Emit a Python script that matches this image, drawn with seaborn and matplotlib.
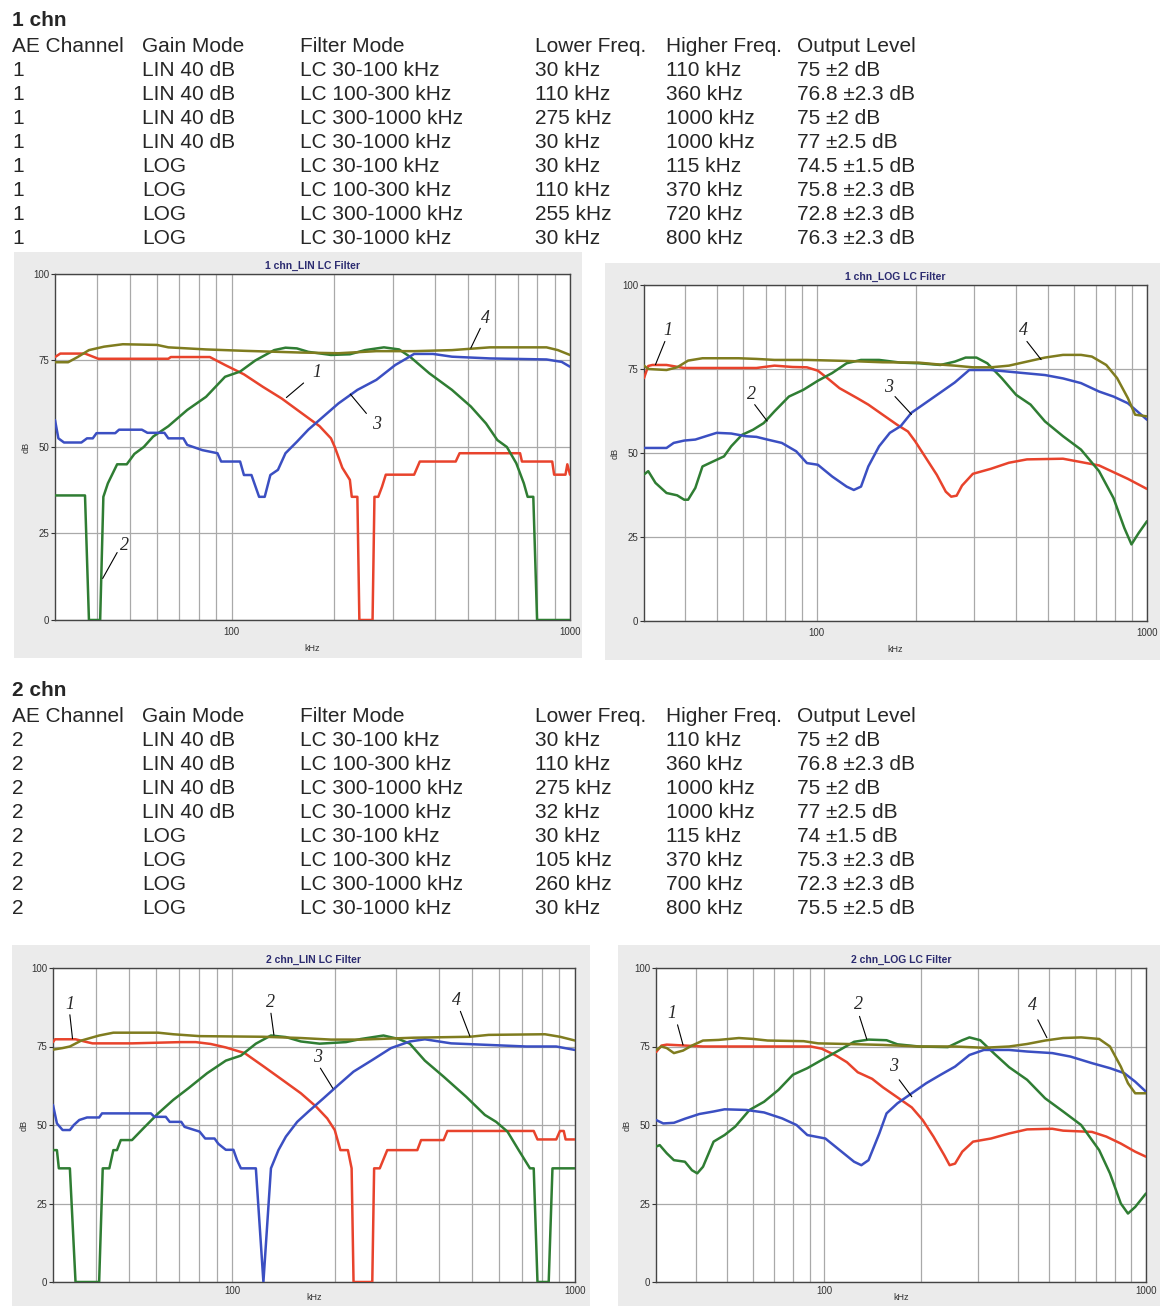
import matplotlib
matplotlib.use("Agg")
import matplotlib.pyplot as plt
from matplotlib.patches import Rectangle
from matplotlib.ticker import FixedLocator, NullFormatter
import seaborn as sns

# ---------------- table data ----------------
HEADERS = ["AE Channel", "Gain Mode", "Filter Mode", "Lower Freq.", "Higher Freq.", "Output Level"]
GAIN = ["LIN 40 dB", "LIN 40 dB", "LIN 40 dB", "LIN 40 dB", "LOG", "LOG", "LOG", "LOG"]
FILTER = ["LC 30-100 kHz", "LC 100-300 kHz", "LC 300-1000 kHz", "LC 30-1000 kHz",
          "LC 30-100 kHz", "LC 100-300 kHz", "LC 300-1000 kHz", "LC 30-1000 kHz"]
CH1 = ["1", "1", "1", "1", "1", "1", "1", "1"]
LOWER1 = ["30 kHz", "110 kHz", "275 kHz", "30 kHz", "30 kHz", "110 kHz", "255 kHz", "30 kHz"]
HIGHER1 = ["110 kHz", "360 kHz", "1000 kHz", "1000 kHz", "115 kHz", "370 kHz", "720 kHz", "800 kHz"]
OUTPUT1 = ["75 ±2 dB", "76.8 ±2.3 dB", "75 ±2 dB", "77 ±2.5 dB", "74.5 ±1.5 dB",
           "75.8 ±2.3 dB", "72.8 ±2.3 dB", "76.3 ±2.3 dB"]
CH2 = ["2", "2", "2", "2", "2", "2", "2", "2"]
LOWER2 = ["30 kHz", "110 kHz", "275 kHz", "32 kHz", "30 kHz", "105 kHz", "260 kHz", "30 kHz"]
HIGHER2 = ["110 kHz", "360 kHz", "1000 kHz", "1000 kHz", "115 kHz", "370 kHz", "700 kHz", "800 kHz"]
OUTPUT2 = ["75 ±2 dB", "76.8 ±2.3 dB", "75 ±2 dB", "77 ±2.5 dB", "74 ±1.5 dB",
           "75.3 ±2.3 dB", "72.3 ±2.3 dB", "75.5 ±2.5 dB"]

TITLES = ["1 chn_LIN LC Filter", "1 chn_LOG LC Filter", "2 chn_LIN LC Filter", "2 chn_LOG LC Filter"]
X_TICKS = [100, 1000]
X_TICK_LABELS = ["100", "1000"]
Y_TICKS = [0, 25, 50, 75, 100]

# ---------------- curve data: 1 chn LIN ----------------
L1_RED_F = [30, 31.1, 36.8, 40.3, 64.9, 66, 86.1, 95.5, 108.6, 123.5, 140.5, 159.8, 181.8, 196.4, 201.6,
            212.2, 223.4, 226.3, 235.1, 238.3, 260.7, 264.1, 271, 278, 285.3, 346, 359.6, 459.3, 471.5,
            711.8, 721, 886, 897.6, 969.6, 982, 1000]
L1_RED_DB = [76, 77, 77, 75.5, 75.5, 76, 76, 73.7, 71, 67.4, 64, 60, 56, 52.5, 50,
             44, 40.5, 35.6, 35.6, 0, 0, 35.6, 35.6, 38.5, 42, 42, 45.8, 45.8, 48.2,
             48.2, 45.8, 45.8, 42, 42, 45, 42]
L1_GRN_F = [30, 36.8, 37.8, 40.8, 41.7, 43.0, 45.8, 48.9, 51.5, 54.9, 58.5, 64.9, 73.8, 83.9, 95.5,
            105.8, 117.3, 133.4, 144.1, 155.7, 168.3, 196.4, 223.4, 247.6, 281.7, 312.2, 337.3, 383.7,
            447.7, 509.1, 564.5, 609.8, 650.6, 693.7, 730.3, 749.4, 778.9, 799.2, 1000]
L1_GRN_DB = [36, 36, 0, 0, 35.6, 39.5, 45, 45, 48, 50, 53, 56, 60.7, 64.5, 70.3,
             71.8, 75, 78, 78.7, 78.5, 77.5, 76.6, 76.8, 78, 78.8, 78.2, 76, 71.3,
             66.5, 61.7, 56.8, 52, 50, 45.3, 39.5, 35.6, 35.6, 0, 0]
L1_BLU_F = [30, 30.7, 31.9, 35.9, 37.3, 38.8, 39.8, 45.2, 46.4, 54.2, 56.3, 63.2, 64.9, 71.9, 73.8,
            81.8, 90.7, 93.0, 105.8, 108.6, 114.3, 120.4, 125.1, 130.0, 136.9, 144.1, 155.7, 168.3,
            186.5, 206.7, 235.1, 267.5, 304.3, 328.7, 346, 393.7, 447.7, 579.3, 852.3, 944.9, 1000]
L1_BLU_DB = [57.8, 52.5, 51.3, 51.3, 52.5, 52.5, 54, 54, 55, 55, 54.1, 54.1, 52.5, 52.5, 50.6,
             49.1, 48.2, 45.8, 45.8, 41.9, 41.9, 35.6, 35.6, 41.9, 43.4, 48.2, 51.5, 55,
             58.8, 62.6, 66.5, 69.4, 73.7, 75.6, 76.9, 76.9, 76.1, 75.6, 75.3, 74.6, 73.2]
L1_OLV_F = [30, 32.8, 35.0, 37.8, 41.9, 47.6, 60.1, 64.9, 83.9, 108.6, 159.8, 206.7, 267.5, 346,
            447.7, 579.3, 852.3, 920.9, 1000]
L1_OLV_DB = [74.5, 74.5, 76, 78, 79, 79.7, 79.5, 78.8, 78.2, 77.8, 77.3, 77.1, 77.7, 77.7,
             78, 78.8, 78.8, 78, 76.6]

# ---------------- curve data: 1 chn LOG ----------------
G1_RED_F = [30, 30.9, 31.8, 35.1, 39.7, 58.0, 65.7, 74.5, 84.5, 93.4, 100.8, 108.6, 117.2, 132.8, 143.3,
            158.4, 175.2, 188.9, 198.6, 214.2, 231.0, 245.9, 255.4, 265.2, 275.4, 297.0, 336.8, 381.9,
            433.0, 556.8, 631.3, 715.8, 791.6, 875.4, 1000]
G1_RED_DB = [72.3, 75.9, 76.2, 76.2, 75.3, 75.3, 75.3, 76, 75.6, 75.5, 74.5, 72, 69.3, 66.3, 64.4,
             61.4, 58.4, 56.4, 53.5, 48.5, 43.5, 38.5, 37, 37.3, 40.3, 43.8, 45.3, 47.1,
             48.1, 48.3, 47.3, 46.3, 44.3, 42.3, 39.3]
G1_GRN_F = [30, 30.9, 32.5, 35.1, 37.8, 39.7, 40.8, 42.9, 45.1, 48.6, 52.4, 55.1, 59.4, 64.1, 69.1,
            74.5, 82.4, 91.1, 100.8, 111.4, 123.2, 136.2, 154.5, 179.6, 203.7, 236.9, 261.9, 282.4,
            304.5, 328.5, 363.1, 401.6, 444.1, 491.0, 556.8, 631.3, 715.8, 791.6, 853.7, 897.4, 943.8, 1000]
G1_GRN_DB = [43.6, 44.6, 41.1, 38.1, 37.4, 36.1, 36.1, 39.6, 46, 47.5, 49, 52, 55.4, 56.9, 58.9,
             62.4, 66.8, 68.8, 71.5, 73.8, 76.7, 77.7, 77.7, 76.9, 76.7, 76.2, 77.2, 78.4,
             78.4, 76.7, 72.3, 67.3, 64.4, 59.4, 55, 51, 44.6, 36.6, 27.7, 22.8, 26.2, 29.7]
G1_BLU_F = [30, 35.1, 36.9, 39.7, 42.9, 46.2, 49.8, 55.1, 61.0, 65.7, 70.9, 78.4, 86.7, 93.4, 100.8,
            111.4, 123.2, 129.5, 136.2, 143.3, 154.5, 166.5, 179.6, 193.7, 214.2, 236.9, 261.9, 289.6,
            336.8, 381.9, 433.0, 491.0, 556.8, 631.3, 715.8, 791.6, 875.4, 1000]
G1_BLU_DB = [51.5, 51.5, 53, 53.7, 54, 55, 56, 55.8, 55, 54.8, 54, 53, 50.5, 47, 46.5,
             43, 40, 39, 40, 46, 52, 56, 58, 62, 65, 68, 71, 74.7,
             74.7, 74.2, 73.7, 73.2, 72.2, 70.8, 68.3, 66.8, 64.8, 59.9]
G1_OLV_F = [30, 30.9, 35.1, 37.8, 40.8, 45.1, 58.0, 65.7, 74.5, 93.4, 123.2, 158.4, 203.7, 231.0,
            261.9, 297.0, 336.8, 381.9, 433.0, 491.0, 556.8, 631.3, 680.8, 752.7, 811.7, 875.4, 920.4, 1000]
G1_OLV_DB = [76, 75, 74.7, 75.5, 77.5, 78.2, 78.2, 78, 77.7, 77.7, 77.4, 77, 76.9, 76.4,
             76, 75.5, 75.5, 76, 77.2, 78.4, 79.2, 79.2, 78.7, 76.2, 72.3, 66.3, 61.4, 60.9]

# ---------------- curve data: 2 chn LIN ----------------
L2_RED_F = [30, 30.4, 34.9, 37.7, 39.1, 51.0, 70.8, 78.3, 86.6, 95.8, 108.7, 123.3, 139.9, 158.6, 175.5,
            189.3, 199.1, 206.8, 217.5, 223.0, 225.9, 256.2, 259.4, 269.4, 283.3, 346.7, 355.6, 413.7,
            424.3, 757.8, 777.2, 881.6, 904.0, 927.1, 938.9, 1000]
L2_RED_DB = [76.4, 77.3, 77.3, 76.4, 76, 76, 76.4, 76.4, 75.8, 74.7, 72.9, 68.7, 64.4, 60.1, 55.9,
             52.1, 48.4, 42, 42, 36.2, 0, 0, 36.2, 36.2, 42, 42, 45.2, 45.2,
             48.1, 48.1, 45.4, 45.4, 48.1, 48.1, 45.4, 45.4]
L2_GRN_F = [30, 30.8, 31.2, 33.6, 34.9, 40.9, 41.9, 43.8, 45.0, 46.1, 47.3, 51.0, 55.0, 60.8, 67.3,
            74.5, 84.5, 95.8, 106.0, 117.2, 129.7, 143.4, 158.6, 179.9, 214.8, 237.5, 276.3, 305.6,
            329.7, 364.7, 413.7, 481.3, 545.9, 588.8, 635.3, 685.0, 738.9, 757.8, 777.2, 838.1, 859.5, 1000]
L2_GRN_DB = [42, 42, 36.2, 36.2, 0, 0, 36.2, 36.2, 42, 42, 45.2, 45.2, 48.9, 53.7, 58,
             61.7, 66.5, 70.5, 72.1, 75.9, 78.5, 78, 76.6, 75.9, 76.4, 77.4, 78.5, 77.4,
             75.9, 70.5, 65.4, 59, 53.2, 51, 47.9, 42, 36.2, 36.2, 0, 0, 36.2, 36.2]
L2_BLU_F = [30, 30.8, 32.0, 33.6, 34.5, 35.8, 37.7, 40.9, 41.7, 57.9, 59.3, 64.0, 65.7, 71.0, 72.6,
            80.3, 83.4, 88.8, 91.1, 95.8, 100.8, 103.3, 106.0, 117.2, 123.3, 129.7, 136.4, 143.4,
            154.7, 166.9, 184.6, 204.2, 225.9, 256.2, 290.6, 329.7, 364.7, 435.1, 559.9, 720.5, 881.6, 1000]
L2_BLU_DB = [56.4, 50.5, 48.4, 48.4, 50, 51.6, 52.4, 52.4, 53.7, 53.7, 52.6, 52.6, 51, 51, 49.4,
             47.9, 45.7, 45.7, 44, 42.1, 42.1, 38.8, 36.2, 36.2, 0, 36.2, 42, 46.3,
             51, 54.3, 58.5, 62.8, 67, 70.7, 74.5, 76.6, 77.3, 76, 75.5, 75, 75, 73.9]
L2_OLV_F = [30, 32.0, 33.6, 36.3, 40.9, 45.0, 60.8, 67.3, 80.3, 123.3, 158.6, 194.1, 237.5, 338.1,
            493.5, 559.9, 817.3, 904.0, 1000]
L2_OLV_DB = [74, 74.5, 75, 76.9, 78.5, 79.4, 79.4, 78.9, 78.3, 78.1, 77.7, 77.2, 77.2, 77.8,
             78.1, 78.7, 78.9, 78.1, 76.9]

# ---------------- curve data: 2 chn LOG ----------------
G2_RED_F = [30, 31.2, 32.4, 36.9, 42.0, 90.9, 98.2, 108.9, 117.6, 127.1, 140.9, 152.2, 168.8, 187.1,
            202.2, 218.5, 236.0, 245.3, 255.0, 268.5, 290.1, 330.0, 375.5, 427.0, 511.4, 552.6, 679.2,
            753.0, 835.0, 925.6, 1000]
G2_RED_DB = [73.2, 75.3, 75.6, 75.3, 75, 75, 74.3, 72.1, 70, 66.8, 64.7, 62, 58.8, 55.6,
             51.6, 46.3, 40.4, 37.2, 37.7, 41.5, 44.7, 45.7, 47.3, 48.6, 48.8, 48.2, 47.8,
             46.3, 44.1, 41.5, 39.9]
G2_GRN_F = [30, 30.8, 32.4, 34.1, 36.9, 38.8, 40.3, 42.0, 45.3, 49.0, 52.9, 58.6, 65.0, 72.1, 79.9,
            88.6, 98.2, 111.7, 123.8, 137.3, 156.2, 168.8, 197.0, 242.2, 268.5, 282.7, 305.4, 338.6,
            375.5, 427.0, 485.8, 552.6, 628.6, 715.2, 772.7, 835.0, 879.0, 925.6, 1000]
G2_GRN_DB = [43.1, 43.6, 41, 38.8, 38.3, 35.6, 34.6, 36.7, 44.7, 46.8, 49.5, 54.8, 57.4, 61.2, 66,
             68.1, 70.7, 73.9, 76.5, 77.2, 77, 75.7, 75, 74.8, 77, 77.9, 77, 72.6,
             68.4, 64.4, 58.5, 54.3, 50, 42, 34.6, 25, 21.8, 23.9, 28.2]
G2_BLU_F = [30, 31.6, 34.1, 36.9, 40.9, 45.3, 49.0, 57.1, 65.0, 74.0, 82.0, 88.6, 100.8, 111.7, 123.8,
            130.4, 137.3, 148.3, 156.2, 168.8, 187.1, 207.4, 230.0, 255.0, 282.7, 313.4, 375.5, 427.0,
            511.4, 582.1, 679.2, 772.7, 856.4, 925.6, 1000]
G2_BLU_DB = [51.6, 50.5, 50.7, 52, 53.5, 54.3, 55, 54.8, 54, 52.1, 50, 46.8, 45.7, 42, 38.3,
             37.2, 38.8, 47.3, 53.7, 56.9, 60.1, 63.3, 66, 68.6, 72.3, 73.9, 73.9, 73.4,
             72.9, 71.8, 69.7, 68.1, 66.5, 63.8, 60.6]
G2_OLV_F = [30, 31.2, 32.4, 34.1, 36.4, 38.8, 42.0, 47.0, 54.3, 60.2, 66.7, 86.3, 95.7, 117.6, 152.2,
            197.0, 255.0, 313.4, 375.5, 427.0, 485.8, 552.6, 628.6, 715.2, 772.7, 835.0, 879.0, 925.6, 1000]
G2_OLV_DB = [73.9, 75, 74.5, 72.9, 73.7, 75.3, 76.9, 77.1, 77.7, 77.4, 76.9, 76.7, 76, 75.8, 75.5,
             75, 75, 74.6, 75, 75.8, 76.9, 77.7, 77.9, 77.4, 75, 68.6, 63.3, 60.1, 60.1]

# curve number labels: (label, text pos, leader start, leader end) in data coords
NOTES = [
    [("1", (178, 71.5), (163, 68.5), (145, 64.3)), ("2", (48, 21.5), (45.8, 19.5), (41.5, 12)),
     ("3", (268, 56.5), (250, 59.7), (224, 65.3)), ("4", (562, 87), (543, 84.3), (509, 78.6))],
    [("1", (35.5, 86.5), (34.7, 83.2), (32.5, 76.3)), ("2", (63.3, 67.5), (64.9, 64.4), (70.8, 59.5)),
     ("3", (164.5, 69.5), (172.6, 66.8), (193.6, 61.5)), ("4", (422, 86.5), (433, 83.2), (478, 77.8))],
    [("1", (33.5, 88.5), (33.6, 85.1), (34.2, 77.5)), ("2", (129, 89), (129.7, 85.6), (132.3, 78.7)),
     ("3", (176.8, 71.5), (180.8, 68.1), (196.5, 61.7)), ("4", (452, 89.5), (463, 86.2), (493.5, 78.3))],
    [("1", (33.5, 85.5), (35.0, 81.9), (36.4, 75.5)), ("2", (128.1, 88.5), (128.7, 84.6), (135.6, 77.3)),
     ("3", (164.5, 68.5), (171, 64.4), (187.1, 59)), ("4", (444, 88), (461, 83.5), (492, 77.8))],
]

CURVES = [
    [(L1_RED_F, L1_RED_DB), (L1_GRN_F, L1_GRN_DB), (L1_BLU_F, L1_BLU_DB), (L1_OLV_F, L1_OLV_DB)],
    [(G1_RED_F, G1_RED_DB), (G1_GRN_F, G1_GRN_DB), (G1_BLU_F, G1_BLU_DB), (G1_OLV_F, G1_OLV_DB)],
    [(L2_RED_F, L2_RED_DB), (L2_GRN_F, L2_GRN_DB), (L2_BLU_F, L2_BLU_DB), (L2_OLV_F, L2_OLV_DB)],
    [(G2_RED_F, G2_RED_DB), (G2_GRN_F, G2_GRN_DB), (G2_BLU_F, G2_BLU_DB), (G2_OLV_F, G2_OLV_DB)],
]
COLORS = ["#e8432c", "#2f7d33", "#3b4fc2", "#7f7c1f"]

# ---------------- layout ----------------
W, H = 1160, 1306
sns.set_style("white")
plt.rcParams["font.family"] = ["Liberation Sans", "DejaVu Sans"]

fig = plt.figure(figsize=(W / 100, H / 100), dpi=100)
fig.patch.set_facecolor("white")


def fx(px):
    return px / W


def fy(py):
    return 1 - py / H


# panel (gray frame) and axes pixel boxes
PANELS = [(14, 252, 582, 658), (605, 263, 1160, 660), (12, 945, 590, 1306), (618, 945, 1160, 1306)]
AXES = [(55, 274, 570, 620), (644, 285, 1147, 621), (53, 968, 575, 1282), (656, 968, 1146, 1282)]
XTICK_PAD = [5, 5, 3, 3]
XLABEL_PAD = [5, 5, -2, -2]

for (l, t, r, b) in PANELS:
    fig.add_artist(Rectangle((fx(l), fy(b)), fx(r - l), (b - t) / H, transform=fig.transFigure,
                             facecolor="#ebebeb", edgecolor="none", zorder=-5))

# tables
COL_X = [12, 142, 300, 535, 666, 797]


def draw_table(title, title_y, header_y, cols):
    fig.text(fx(12), fy(title_y), title, fontsize=15, fontweight="bold", va="center", ha="left")
    for cx, h in zip(COL_X, HEADERS):
        fig.text(fx(cx), fy(header_y), h, fontsize=15, va="center", ha="left")
    for i in range(8):
        for cx, col in zip(COL_X, cols):
            fig.text(fx(cx), fy(header_y + 24 * (i + 1)), col[i], fontsize=15, va="center", ha="left")


draw_table("1 chn", 20, 46, [CH1, GAIN, FILTER, LOWER1, HIGHER1, OUTPUT1])
draw_table("2 chn", 690, 716, [CH2, GAIN, FILTER, LOWER2, HIGHER2, OUTPUT2])

minor_grid = [40, 50, 60, 70, 80, 90, 200, 300, 400, 500, 600, 700, 800, 900]

for k in range(4):
    l, t, r, b = AXES[k]
    ax = fig.add_axes([fx(l), fy(b), fx(r - l), (b - t) / H])
    ax.set_zorder(2)
    ax.set_facecolor("white")
    for (f, db), c in zip(CURVES[k], COLORS):
        sns.lineplot(x=f, y=db, ax=ax, color=c, linewidth=1.8, estimator=None, sort=False,
                     legend=False, zorder=3)
    ax.set_xscale("log")
    ax.set_xlim(30, 1000)
    ax.set_ylim(0, 100)
    ax.xaxis.set_major_locator(FixedLocator(X_TICKS))
    ax.set_xticklabels(X_TICK_LABELS)
    ax.xaxis.set_minor_locator(FixedLocator(minor_grid))
    ax.xaxis.set_minor_formatter(NullFormatter())
    ax.set_yticks(Y_TICKS)
    ax.grid(True, which="both", axis="x", color="#a9a9a9", linewidth=0.9, zorder=1)
    ax.grid(True, which="major", axis="y", color="#a9a9a9", linewidth=0.9, zorder=1)
    ax.tick_params(axis="x", which="both", length=0, labelsize=7, colors="#333333", pad=XTICK_PAD[k])
    ax.tick_params(axis="y", which="major", length=3, width=0.8, labelsize=7, colors="#333333",
                   left=True, pad=1)
    for s in ax.spines.values():
        s.set_color("#444444")
        s.set_linewidth(1.0)
    ax.set_xlabel("kHz", fontsize=6.5, labelpad=XLABEL_PAD[k], color="#333333")
    ax.set_ylabel("dB", fontsize=6.5, labelpad=2, color="#333333")
    ax.set_title(TITLES[k], fontsize=7.5, fontweight="bold", color="#2b2b70", pad=4)
    for lab, tp, p0, p1 in NOTES[k]:
        ax.plot([p0[0], p1[0]], [p0[1], p1[1]], color="black", linewidth=0.8, zorder=4)
        ax.text(tp[0], tp[1], lab, fontsize=13, fontstyle="italic",
                family=["Liberation Serif", "DejaVu Serif"], ha="center", va="center", zorder=5)

fig.savefig("out.png", dpi=100)
